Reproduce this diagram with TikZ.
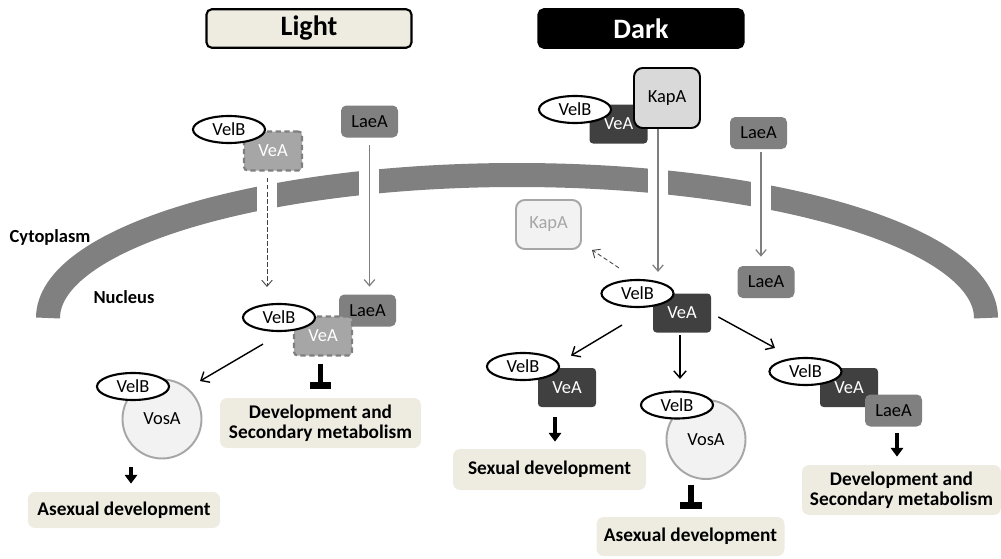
\documentclass[tikz,border=0pt]{standalone}
\usepackage{fontspec}
\setmainfont{Carlito}
\usetikzlibrary{shapes.geometric,arrows.meta,calc}
\definecolor{velbeige}{RGB}{238,236,225}
\definecolor{veadark}{RGB}{64,64,64}
\definecolor{veagray}{RGB}{166,166,166}
\definecolor{laegray}{RGB}{128,128,128}
\definecolor{kapgray}{RGB}{217,217,217}
\definecolor{palegray}{RGB}{242,242,242}
\definecolor{linegray}{RGB}{127,127,127}

\tikzset{
  protein/.style={inner sep=0pt, font=\fontsize{10.5}{12}\selectfont},
  velb/.style={protein, ellipse, draw=black, line width=1.2pt, fill=white,
    minimum width=1.44cm, minimum height=0.54cm},
  vea/.style={protein, rectangle, rounded corners=2pt, fill=veadark, text=white,
    minimum width=1.16cm, minimum height=0.78cm},
  veafaint/.style={vea, fill=veagray, draw=linegray, line width=1.2pt,
    dash pattern=on 3pt off 2pt},
  laea/.style={protein, rectangle, rounded corners=3pt, fill=laegray,
    minimum width=1.14cm, minimum height=0.64cm},
  kapa/.style={protein, rectangle, rounded corners=5pt, fill=kapgray, draw=black,
    line width=1.1pt, minimum width=1.32cm, minimum height=1.2cm},
  kapafade/.style={kapa, fill=palegray, draw=veagray, text=veagray,
    minimum width=1.3cm, minimum height=0.98cm},
  vosa/.style={protein, circle, fill=palegray, draw=veagray, line width=1.1pt,
    minimum size=1.58cm},
  outcome/.style={rectangle, rounded corners=4pt, fill=velbeige, align=center,
    inner sep=0pt, font=\bfseries\fontsize{11}{11.6}\selectfont},
  title/.style={rectangle, rounded corners=3pt, draw=black, line width=1.2pt,
    minimum width=4.1cm, minimum height=0.77cm, font=\bfseries\fontsize{16}{18}\selectfont},
  region/.style={font=\bfseries\fontsize{10.5}{12}\selectfont},
  membrane/.style={draw=laegray, line width=0.48cm},
  imp/.style={draw=linegray, line width=0.7pt, -{Straight Barb[length=3.5pt,width=6pt]}},
  impdash/.style={imp, draw=black!75, line width=0.5pt, dash pattern=on 2.5pt off 1.5pt},
  act/.style={draw=black, line width=0.8pt, -{Straight Barb[length=4pt,width=7pt]}},
  thickarr/.style={draw=black, line width=2.3pt, -{Triangle[length=5pt,width=7pt]}},
  inhib/.style={draw=black, line width=3.4pt, -{Bar[width=12pt,line width=4pt]}}
}

\begin{document}
\begin{tikzpicture}
  \useasboundingbox (0,0) rectangle (20.02,11.16);

  % nuclear envelope with pores
  \draw[membrane] (0.96,4.8) arc[start angle=180, end angle=0, x radius=9.38, y radius=2.86];
  \foreach \x/\y in {5.34/7.22, 7.38/7.52, 13.16/7.53, 15.22/7.24}
    \fill[white] (\x-0.2,\y-0.45) rectangle (\x+0.2,\y+0.45);

  \node[region] (cyto) at (1.0,6.42) {Cytoplasm};
  \node[region] (nucl) at (2.48,5.22) {Nucleus};

  \node[title, fill=velbeige] (light) at (6.18,10.59) {Light};
  \node[title, fill=black, text=white] (dark) at (12.82,10.59) {Dark};

  % light
  \node[veafaint] (veaL1) at (5.46,8.14) {VeA};
  \node[velb] (velbL1) at (4.58,8.57) {VelB};
  \node[laea] (laeaL1) at (7.39,8.73) {LaeA};
  \node[laea] (laeaL2) at (7.35,4.95) {LaeA};
  \node[veafaint] (veaL2) at (6.46,4.44) {VeA};
  \node[velb] (velbL2) at (5.58,4.81) {VelB};
  \node[vosa] (vosaL) at (3.24,2.78) {VosA};
  \node[velb] (velbL3) at (2.66,3.43) {VelB};
  \node[outcome, minimum width=4.02cm, minimum height=1cm] (devL) at (6.41,2.7)
    {Development and\\Secondary metabolism};
  \node[outcome, minimum width=3.84cm, minimum height=0.72cm] (asexL) at (2.48,0.96)
    {Asexual development};

  \draw[impdash, shorten <=0.13cm, shorten >=0.32cm]
    ([xshift=-0.12cm]veaL1.south) -- ([xshift=-0.12cm]veaL1.south |- velbL2.north);
  \draw[imp, shorten <=0.15cm, shorten >=0.15cm] (laeaL1.south) -- (laeaL1.south |- laeaL2.north);
  \draw[act] ($(velbL2.south)+(-0.32,-0.24)$) -- ($(vosaL.north)+(0.76,-0.05)$);
  \draw[inhib, shorten <=0.14cm, shorten >=0.18cm] (devL.north |- veaL2.south) -- (devL.north);
  \draw[thickarr, shorten <=0.15cm, shorten >=0.16cm]
    ([xshift=0.14cm]asexL.north |- vosaL.south) -- ([xshift=0.14cm]asexL.north);

  % dark
  \node[vea] (veaD1) at (12.37,8.68) {VeA};
  \node[velb] (velbD1) at (11.5,8.97) {VelB};
  \node[kapa] (kapaD) at (13.34,9.2) {KapA};
  \node[laea] (laeaD1) at (15.17,8.5) {LaeA};
  \node[kapafade] (kapaF) at (10.97,6.67) {KapA};
  \node[laea] (laeaD2) at (15.32,5.52) {LaeA};
  \node[vea] (veaD2) at (13.64,4.9) {VeA};
  \node[velb] (velbD2) at (12.75,5.29) {VelB};
  \node[vea] (veaD3) at (11.34,3.41) {VeA};
  \node[velb] (velbD3) at (10.46,3.83) {VelB};
  \node[outcome, minimum width=3.86cm, minimum height=0.82cm] (sexD) at (10.99,1.77)
    {Sexual development};
  \node[vosa] (vosaD) at (14.12,2.37) {VosA};
  \node[velb] (velbD4) at (13.54,3.06) {VelB};
  \node[outcome, minimum width=3.76cm, minimum height=0.78cm] (asexD) at (13.81,0.43)
    {Asexual development};
  \node[vea] (veaD5) at (16.98,3.41) {VeA};
  \node[laea] (laeaD5) at (17.87,2.95) {LaeA};
  \node[velb] (velbD5) at (16.11,3.73) {VelB};
  \node[outcome, minimum width=3.98cm, minimum height=1cm] (devD) at (18.03,1.36)
    {Development and\\Secondary metabolism};

  \draw[imp, shorten >=0.14cm]
    ([xshift=-0.18cm]kapaD.south) -- ([xshift=-0.18cm]kapaD.south |- velbD2.north);
  \draw[imp, shorten <=0.06cm, shorten >=0.18cm]
    ([xshift=0.05cm]laeaD1.south) -- ([xshift=0.05cm]laeaD1.south |- laeaD2.north);
  \draw[impdash] ($(velbD2.north)+(-0.37,0.22)$) -- ($(kapaF.south east)+(0.2,0)$);
  \draw[act] ($(velbD2.south)+(-0.31,-0.34)$) -- ($(veaD3.north)+(0.08,0.24)$);
  \draw[act, shorten <=0.05cm, shorten >=0.23cm]
    ([xshift=-0.04cm]veaD2.south) -- ([xshift=-0.04cm]veaD2.south |- velbD4.north);
  \draw[act] ($(veaD2.east)+(0.14,-0.08)$) -- ($(velbD5.north)+(-0.61,0.18)$);
  \draw[inhib, shorten <=0.1cm, shorten >=0.16cm]
    ([xshift=-0.3cm]vosaD.south) -- ([xshift=-0.3cm]vosaD.south |- asexD.north);
  \draw[thickarr, shorten <=0.2cm, shorten >=0.14cm]
    ([xshift=0.11cm]sexD.north |- veaD3.south) -- ([xshift=0.11cm]sexD.north);
  \draw[thickarr, shorten <=0.12cm, shorten >=0.16cm]
    ([xshift=0.07cm]laeaD5.south) -- ([xshift=0.07cm]laeaD5.south |- devD.north);
\end{tikzpicture}
\end{document}
